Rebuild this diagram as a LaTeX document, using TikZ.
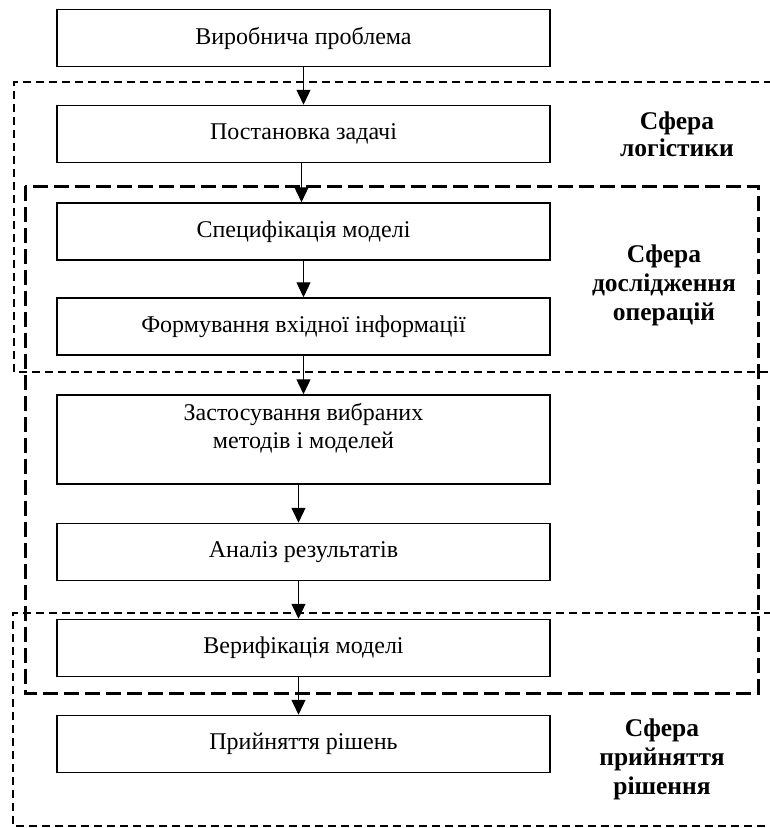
\documentclass[tikz,border=0pt]{standalone}
\usepackage{fontspec}
\setmainfont{Liberation Serif}
\usetikzlibrary{arrows.meta}
\begin{document}
\begin{tikzpicture}[x=1pt,y=-1pt,
  box/.style={draw, line width=1.5pt, minimum width=493pt, minimum height=57pt, inner sep=0pt, font=\fontsize{24}{28}\selectfont, align=center},
  txt/.style={inner sep=0pt, font=\fontsize{24}{28}\selectfont, align=center},
  arr/.style={line width=1.3pt, -{Triangle[length=15pt,width=14pt]}},
  zshort/.style={line width=2.5pt, dash pattern=on 8pt off 5pt},
  zlong/.style={line width=3pt, dash pattern=on 15pt off 6pt},
  lab/.style={font=\bfseries\fontsize{25.5}{29}\selectfont, align=center, inner sep=0pt}]
\useasboundingbox (0,0) rectangle (770,828);
% dashed areas
\draw[zshort] (772,82) -- (14,82) -- (14,372) -- (772,372);
\draw[zlong] (25,186) rectangle (758,693);
\draw[zshort] (772,613) -- (13,613) -- (13,826) -- (772,826);
% boxes
\node[box] (b1) at (303.5,38) {Виробнича проблема};
\node[box] (b2) at (303.5,134) {Постановка задачі};
\node[box] (b3) at (303.5,231.5) {Специфікація моделі};
\node[box] (b4) at (303.5,326.5) {Формування вхідної інформації};
\node[box, minimum height=89pt] (b5) at (303.5,439.5) {};
\node[txt] (t5) at (303.5,428) {Застосування вибраних\\ методів і моделей};
\node[box] (b6) at (303.5,552) {Аналіз результатів};
\node[box] (b7) at (303.5,648) {Верифікація моделі};
\node[box] (b8) at (303.5,744) {Прийняття рішень};
% arrows
\draw[arr] (b1.south) -- (b2.north);
\draw[arr] ([xshift=-2pt]b2.south) -- ([xshift=-2pt]b3.north);
\draw[arr] (b3.south) -- (b4.north);
\draw[arr] (b4.south) -- (b5.north);
\draw[arr] ([xshift=-5pt]b5.south) -- ([xshift=-5pt]b6.north);
\draw[arr] ([xshift=-5pt]b6.south) -- ([xshift=-5pt]b7.north);
\draw[arr] ([xshift=-5pt]b7.south) -- ([xshift=-5pt]b8.north);
% labels
\node[lab, font=\bfseries\fontsize{25.5}{27}\selectfont] (l1) at (677,134) {Сфера\\логістики};
\node[lab] (l2) at (664,285) {Сфера\\дослідження\\операцій};
\node[lab] (l3) at (662,759) {Сфера\\прийняття\\рішення};
\end{tikzpicture}
\end{document}
